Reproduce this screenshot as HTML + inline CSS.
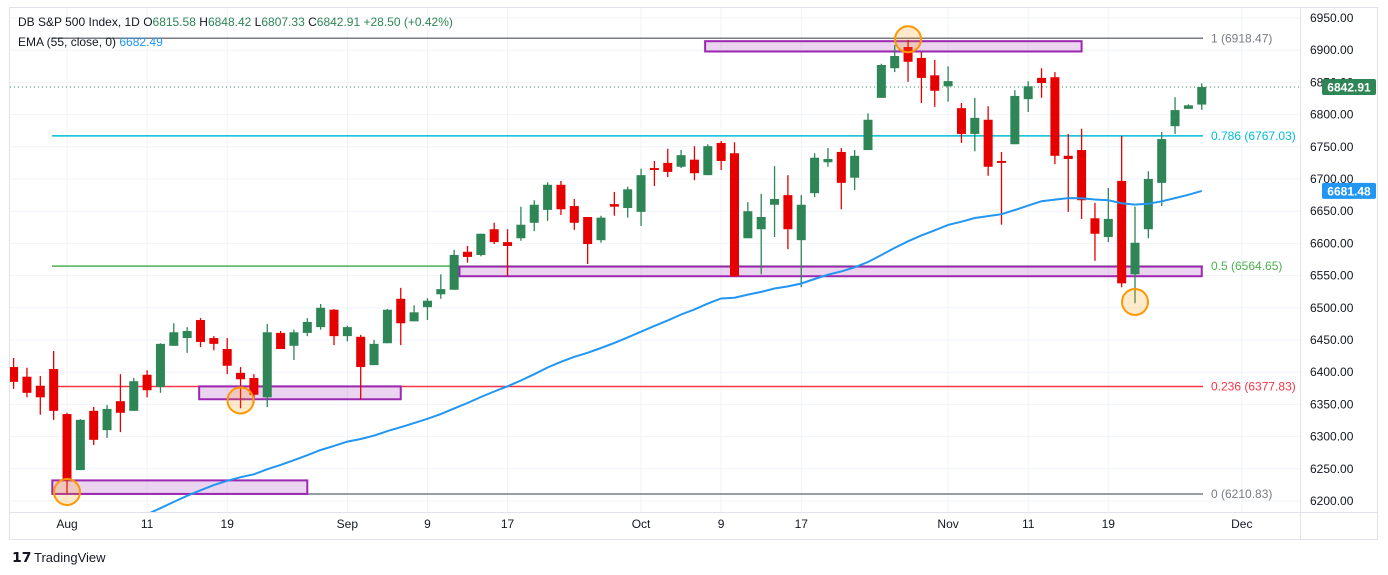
<!DOCTYPE html>
<html><head><meta charset="utf-8"><style>
html,body{margin:0;padding:0;background:#fff;}
svg{display:block;font-family:"Liberation Sans",sans-serif;}
</style></head><body>
<svg id="chart" width="1388" height="575" viewBox="0 0 1388 575">
<defs><clipPath id="plotclip"><rect x="10" y="8" width="1290" height="504"/></clipPath></defs>
<rect x="0" y="0" width="1388" height="575" fill="#fff"/>
<rect x="9.5" y="7.5" width="1368" height="532" fill="none" stroke="#e0e3eb"/>
<line x1="1300.5" y1="8" x2="1300.5" y2="540" stroke="#e0e3eb"/>
<line x1="10" y1="512.5" x2="1378" y2="512.5" stroke="#e0e3eb"/>
<g id="grid"></g>
<g id="fibs" clip-path="url(#plotclip)"></g>
<g id="zones"></g>
<g id="candles" clip-path="url(#plotclip)"></g>
<g id="ema" clip-path="url(#plotclip)"></g>
<g id="circles"></g>
<g id="yaxis"></g>
<g id="xaxis"></g>
<g font-size="12">
<text x="18" y="26" fill="#131722">DB S&amp;P 500 Index, 1D <tspan fill="#131722">O</tspan><tspan fill="#2e8555">6815.58</tspan> <tspan fill="#131722">H</tspan><tspan fill="#2e8555">6848.42</tspan> <tspan fill="#131722">L</tspan><tspan fill="#2e8555">6807.33</tspan> <tspan fill="#131722">C</tspan><tspan fill="#2e8555">6842.91 +28.50 (+0.42%)</tspan></text>
<text x="18" y="46" fill="#131722">EMA (55, close, 0) <tspan fill="#2196f3">6682.49</tspan></text>
</g>
<g>
<text x="12" y="562" font-size="14" font-weight="bold" fill="#131722">𝟭𝟳</text>
<text x="34" y="562" font-size="13" fill="#131722">TradingView</text>
</g>
</svg>
<script>
const opens=[6408,6393,6379,6405,6335,6248,6340,6310,6355,6340,6396,6377,6441,6453,6481,6453,6436,6399,6391,6361,6461,6441,6461,6470,6497,6456,6455,6411,6445,6514,6479,6501,6521,6528,6587,6582,6622,6602,6608,6632,6652,6691,6658,6641,6605,6661,6655,6649,6717,6725,6719,6730,6706,6756,6740,6608,6622,6660,6675,6605,6678,6726,6742,6702,6745,6826,6872,6905,6888,6861,6844,6810,6770,6792,6728,6754,6824,6857,6858,6736,6745,6639,6610,6697,6552,6622,6694,6782,6809,6815.58];
const highs=[6422,6407,6394,6433,6337,6327,6346,6349,6397,6391,6403,6445,6476,6470,6484,6456,6453,6408,6397,6475,6464,6466,6484,6506,6498,6472,6458,6450,6498,6531,6504,6515,6552,6590,6596,6615,6632,6622,6657,6667,6695,6697,6669,6641,6643,6680,6688,6716,6728,6747,6745,6751,6754,6759,6757,6664,6677,6720,6706,6675,6740,6748,6748,6745,6802,6879,6908,6916,6897,6885,6875,6818,6826,6813,6742,6838,6852,6872,6866,6770,6778,6663,6686,6767,6657,6712,6773,6827,6816,6848.42];
const lows=[6374,6361,6334,6326,6212,6248,6287,6298,6307,6340,6361,6368,6441,6430,6439,6434,6397,6344,6352,6346,6436,6419,6456,6466,6442,6448,6358,6411,6445,6442,6479,6481,6514,6528,6570,6580,6599,6549,6604,6619,6635,6644,6621,6568,6601,6643,6640,6627,6689,6703,6717,6698,6706,6714,6548,6608,6552,6610,6591,6532,6672,6719,6653,6683,6745,6826,6866,6851,6818,6812,6820,6756,6743,6705,6629,6754,6804,6826,6723,6649,6638,6573,6602,6532,6507,6608,6658,6770,6809,6807.33];
const closes=[6385,6368,6361,6340,6233,6326,6295,6343,6337,6386,6372,6444,6462,6464,6447,6444,6410,6389,6365,6462,6436,6462,6478,6500,6456,6470,6408,6444,6497,6476,6493,6511,6529,6582,6579,6615,6602,6596,6629,6660,6691,6653,6632,6599,6640,6657,6684,6706,6714,6711,6737,6709,6751,6728,6549,6650,6641,6669,6622,6660,6733,6731,6694,6736,6792,6877,6891,6882,6857,6837,6852,6770,6795,6719,6725,6829,6844,6849,6736,6731,6667,6615,6638,6538,6601,6700,6762,6807,6814.41,6842.91];
const emaPeriod=55, emaSeed=6100;
const priceTicks=[6950,6900,6850,6800,6750,6700,6650,6600,6550,6500,6450,6400,6350,6300,6250,6200];
const xTickIdx=[4,10,16,25,31,37,47,53,59,70,76,82,92];
const xTickLabels=["Aug","11","19","Sep","9","17","Oct","9","17","Nov","11","19","Dec"];
const fibLevels=[6918.47,6767.03,6564.65,6377.83,6210.83];
const fibNames=["1","0.786","0.5","0.236","0"];
const fibColors=["#787b86","#00bcd4","#4caf50","#f23645","#787b86"];
const zoneIdxStart=[51.8,33.4,13.9,2.9];
const zoneIdxEnd=[80,89,29,22];
const zoneTop=[6914,6564,6378,6232];
const zoneBot=[6898,6549,6358,6211];
const circleIdx=[67,17,4,84];
const circlePrice=[6917,6356,6214,6509];

const NS="http://www.w3.org/2000/svg";
const X=i=>13.6+i*13.35;
const Y=p=>18+(6950-p)*0.644;
function mk(tag,attrs,parent){const e=document.createElementNS(NS,tag);for(const k in attrs)e.setAttribute(k,attrs[k]);parent.appendChild(e);return e;}
const G=id=>document.getElementById(id);

priceTicks.forEach((p,i)=>{
 const l=mk('line',{x1:10,x2:1300,y1:Y(p),y2:Y(p),stroke:'#f0f3fa'},G('grid'));
 
 
 const t=mk('text',{x:1310,y:Y(p)+4,'font-size':12,fill:'#131722'},G('yaxis'));
 t.textContent=p.toFixed(2);
 
 
});
xTickIdx.forEach((ix,i)=>{
 const l=mk('line',{x1:X(ix),x2:X(ix),y1:8,y2:512,stroke:'#f0f3fa'},G('grid'));
 
 
 const t=mk('text',{x:X(ix),y:528,'font-size':12,fill:'#131722','text-anchor':'middle'},G('xaxis'));
 t.textContent=xTickLabels[i];
 
 
});
fibLevels.forEach((p,i)=>{
 const l=mk('line',{x1:52,x2:1203,y1:Y(p),y2:Y(p),stroke:fibColors[i],'stroke-width':1.5},G('fibs'));
 
 
 const t=mk('text',{x:1211,y:Y(p)+4,'font-size':12,fill:fibColors[i]},G('fibs'));
 t.textContent=fibNames[i]+" ("+p.toFixed(2)+")";
 
 
});
zoneTop.forEach((p,i)=>{
 const r=mk('rect',{x:X(zoneIdxStart[i]),y:Y(p),width:X(zoneIdxEnd[i])-X(zoneIdxStart[i]),height:Y(zoneBot[i])-Y(p),fill:'rgba(156,39,176,0.2)',stroke:'#9c27b0','stroke-width':2},G('zones'));
 
 
});
opens.forEach((o,i)=>{
 const c=closes[i],up=c>=o,col=up?'#2e8555':'#e60000',x=X(i);
 const w=mk('line',{x1:x,x2:x,y1:Y(highs[i]),y2:Y(lows[i]),stroke:col,'stroke-width':1.3},G('candles'));
 
 
 const top=Y(Math.max(o,c)),bot=Y(Math.min(o,c));
 const b=mk('rect',{x:x-4.5,y:top,width:9,height:Math.max(1.5,bot-top),fill:col},G('candles'));
 
 
});
const a=2/(emaPeriod+1);let e=emaSeed;const pts=[];
closes.forEach((c,i)=>{e=e+a*(c-e);pts.push(X(i).toFixed(1)+','+Y(e).toFixed(1));});
const em=mk('polyline',{points:pts.join(' '),fill:'none',stroke:'#2196f3','stroke-width':2},G('ema'));


circleIdx.forEach((ix,i)=>{
 const c=mk('circle',{cx:X(ix),cy:Y(circlePrice[i]),r:13,fill:'rgba(255,152,0,0.2)',stroke:'#ff9800','stroke-width':2},G('circles'));
 
 
});
const last=closes[closes.length-1];
const dl=mk('line',{x1:10,x2:1300,y1:Y(last),y2:Y(last),stroke:'#2e8555','stroke-dasharray':'1 3'},G('fibs'));


function tag(val,col,name){
 const g=mk('g',{},G('yaxis'));
 
 
 mk('rect',{x:1322,y:Y(val)-8,width:54,height:16,fill:col,rx:2},g);
 const t=mk('text',{x:1349,y:Y(val)+4.5,'font-size':12,'font-weight':'bold',fill:'#fff','text-anchor':'middle'},g);
 t.textContent=val.toFixed(2);
}
tag(last,'#2e8555','last-price-tag');
tag(e,'#2196f3','ema-value-tag');
</script>
</body></html>
